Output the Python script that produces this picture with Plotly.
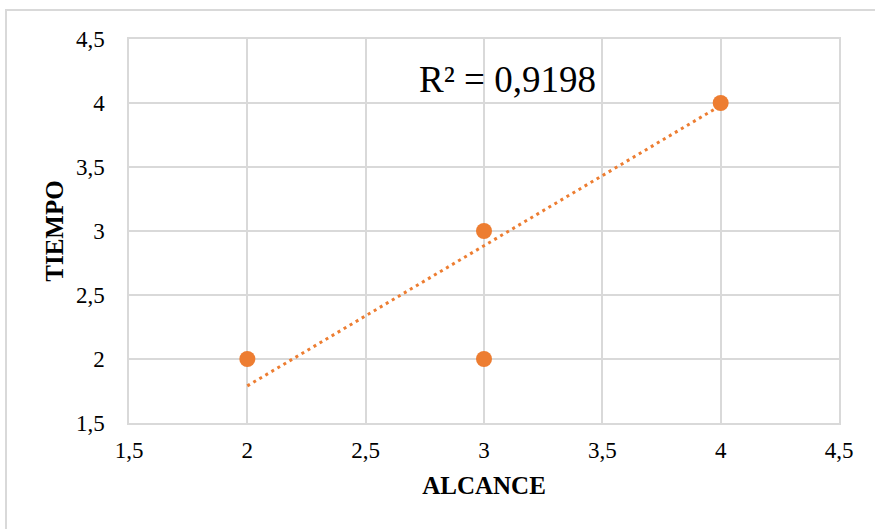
import plotly.graph_objects as go

# Data
alcance = [2, 3, 3, 4]
tiempo = [2, 3, 2, 4]
trend_x = [2, 4]
trend_y = [1.79, 3.98]
r2_label = "R² = 0,9198"
tick_vals = [1.5, 2, 2.5, 3, 3.5, 4, 4.5]
tick_text = ["1,5", "2", "2,5", "3", "3,5", "4", "4,5"]

ORANGE = "#ED7D31"
GRID = "#D9D9D9"
FONT = "Liberation Serif"

fig = go.Figure()
fig.add_trace(go.Scatter(
    x=trend_x, y=trend_y, mode="lines",
    line=dict(color=ORANGE, width=3, dash="3px,4px"),
    hoverinfo="skip", showlegend=False))
fig.add_trace(go.Scatter(
    x=alcance, y=tiempo, mode="markers",
    marker=dict(color=ORANGE, size=16),
    showlegend=False))

W, H = 875, 529
ml, mr, mt, mb = 129, 36, 39, 106
pw, ph = W - ml - mr, H - mt - mb

def px_x(p):
    return (p - ml) / pw

def px_y(p):
    return (H - mb - p) / ph

fig.add_shape(type="rect", xref="paper", yref="paper",
              x0=px_x(6), x1=px_x(W + 20), y0=px_y(H + 20), y1=px_y(10),
              line=dict(color=GRID, width=2), fillcolor="rgba(0,0,0,0)", layer="below")

fig.add_annotation(x=3.1, y=4.18, xref="x", yref="y", text=r2_label,
                   showarrow=False, font=dict(family=FONT, size=37, color="#000000"))

axis_common = dict(
    tickmode="array", tickvals=tick_vals, ticktext=tick_text, range=[1.5, 4.5],
    showgrid=True, gridcolor=GRID, gridwidth=1.5,
    showline=True, linecolor=GRID, linewidth=1.5, mirror=True,
    zeroline=False, ticks="",
    tickfont=dict(family=FONT, size=23, color="#000000"),
)

fig.update_layout(
    width=W, height=H,
    font=dict(family=FONT, size=23, color="#000000"),
    margin=dict(l=ml, r=mr, t=mt, b=mb),
    paper_bgcolor="white", plot_bgcolor="white",
    xaxis=dict(**axis_common, ticklabelstandoff=6,
               title=dict(text="<b>ALCANCE</b>", standoff=14,
                          font=dict(family=FONT, size=25, color="#000000"))),
    yaxis=dict(**axis_common, ticklabelstandoff=18,
               title=dict(text="<b>TIEMPO</b>", standoff=5,
                          font=dict(family=FONT, size=25, color="#000000"))),
)

fig.write_html("out.html")
